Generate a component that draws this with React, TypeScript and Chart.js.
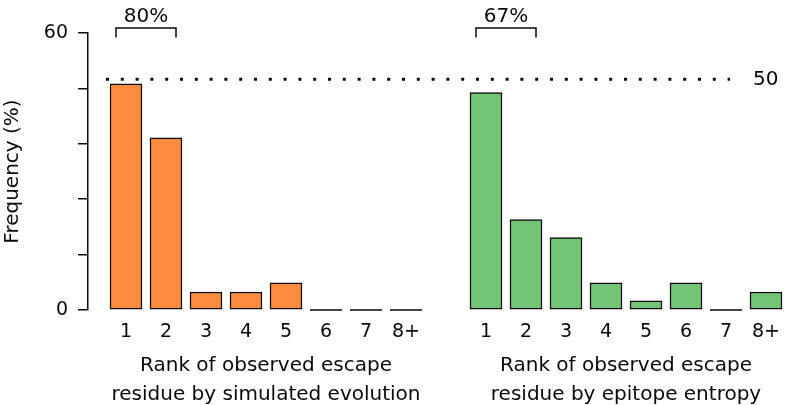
import React, { useEffect, useRef } from "react";
import { Chart, registerables } from "chart.js";

Chart.register(...registerables);

// ---- data ----
const rankLabels = ["1", "2", "3", "4", "5", "6", "7", "8+"];
const simulatedEvolution = [49.0, 37.3, 3.9, 3.9, 5.9, 0, 0, 0];
const epitopeEntropy = [47.1, 19.6, 15.7, 5.9, 2.0, 5.9, 0, 3.9];
const leftPositions = [0, 1, 2, 3, 4, 5, 6, 7];
const rightPositions = [9, 10, 11, 12, 13, 14, 15, 16];
const yLabeledTicks = [0, 60];
const referenceValue = 50;
const referenceSpan = [-0.5, 15.1];
const topTwoLabels = ["80%", "67%"];
const xTitles = [
  ["Rank of observed escape", "residue by simulated evolution"],
  ["Rank of observed escape", "residue by epitope entropy"],
];
const yTitle = "Frequency (%)";

const FONT = "'DejaVu Sans', 'Liberation Sans', Arial, sans-serif";
const INK = "#0a0a0a";
const ORANGE = "#FD8D3C";
const GREEN = "#74C476";

const annotations = {
  id: "annotations",
  afterDatasetsDraw(chart: any) {
    const { ctx, chartArea, scales } = chart;
    const x = scales.x;
    const y = scales.y;
    ctx.save();
    // zero-height bars as baseline strokes
    chart.data.datasets.forEach((ds: any, di: number) => {
      if (ds.type === "line") return;
      const meta = chart.getDatasetMeta(di);
      meta.data.forEach((el: any, i: number) => {
        const v = ds.data[i].y;
        if (v === 0) {
          ctx.strokeStyle = INK;
          ctx.lineWidth = 1.5;
          ctx.beginPath();
          ctx.moveTo(el.x - el.width / 2, el.base);
          ctx.lineTo(el.x + el.width / 2, el.base);
          ctx.stroke();
        }
      });
    });
    // brackets over top-two ranks
    const groups = [leftPositions, rightPositions];
    ctx.font = `20px ${FONT}`;
    ctx.fillStyle = INK;
    ctx.textAlign = "center";
    ctx.textBaseline = "middle";
    groups.forEach((pos, g) => {
      const x1 = x.getPixelForValue(pos[0]) - 10;
      const x2 = x.getPixelForValue(pos[1]) + 10;
      const yTop = chartArea.top - 5;
      const yBot = chartArea.top + 4.5;
      ctx.strokeStyle = INK;
      ctx.lineWidth = 1.5;
      ctx.beginPath();
      ctx.moveTo(x1, yBot);
      ctx.lineTo(x1, yTop);
      ctx.lineTo(x2, yTop);
      ctx.lineTo(x2, yBot);
      ctx.stroke();
      ctx.fillText(topTwoLabels[g], (x1 + x2) / 2, yTop - 11);
    });
    // reference label
    ctx.textAlign = "left";
    ctx.fillText(String(referenceValue), x.getPixelForValue(referenceSpan[1]) + 23, y.getPixelForValue(referenceValue) + 1);
    // x titles
    ctx.textAlign = "center";
    groups.forEach((pos, g) => {
      const cx = (x.getPixelForValue(pos[0]) + x.getPixelForValue(pos[pos.length - 1])) / 2;
      ctx.fillText(xTitles[g][0], cx, chartArea.bottom + 56);
      ctx.fillText(xTitles[g][1], cx, chartArea.bottom + 85);
    });
    ctx.restore();
  },
};

export default function App() {
  const ref = useRef<HTMLCanvasElement | null>(null);
  useEffect(() => {
    document.body.style.margin = "0";
    const tickPositions = [...leftPositions, ...rightPositions];
    const tickLabels = [...rankLabels, ...rankLabels];
    const chart = new Chart(ref.current as HTMLCanvasElement, {
      type: "bar",
      data: {
        datasets: [
          {
            type: "line",
            data: referenceSpan.map((v) => ({ x: v, y: referenceValue })),
            borderColor: INK,
            borderWidth: 3,
            borderDash: [3, 11.8],
            borderCapStyle: "butt",
            pointRadius: 0,
            fill: false,
          } as any,
          {
            type: "bar",
            data: leftPositions.map((p, i) => ({ x: p, y: simulatedEvolution[i] })),
            backgroundColor: ORANGE,
            borderColor: INK,
            borderWidth: 1.5,
            borderSkipped: false,
            barThickness: 32,
            grouped: false,
          } as any,
          {
            type: "bar",
            data: rightPositions.map((p, i) => ({ x: p, y: epitopeEntropy[i] })),
            backgroundColor: GREEN,
            borderColor: INK,
            borderWidth: 1.5,
            borderSkipped: false,
            barThickness: 32,
            grouped: false,
          } as any,
        ],
      },
      options: {
        responsive: false,
        animation: false,
        layout: { padding: { top: 33, left: 0, right: 0, bottom: 0 } },
        plugins: { legend: { display: false }, tooltip: { enabled: false } },
        scales: {
          x: {
            type: "linear",
            offset: false,
            min: -0.95,
            max: 16.5,
            grid: { display: false, drawTicks: false, offset: false },
            border: { display: false },
            afterBuildTicks: (scale: any) => {
              scale.ticks = tickPositions.map((v) => ({ value: v }));
            },
            afterFit: (scale: any) => {
              scale.height = 95;
              scale.paddingLeft = 0;
              scale.paddingRight = 0;
            },
            ticks: {
              autoSkip: false,
              maxRotation: 0,
              padding: 11,
              color: INK,
              font: { family: FONT, size: 19 },
              callback: (_v: any, i: number) => tickLabels[i],
            },
          },
          y: {
            min: 0,
            max: 60,
            afterFit: (scale: any) => {
              scale.width = 88;
            },
            grid: {
              display: true,
              drawOnChartArea: false,
              drawTicks: true,
              tickLength: 10,
              color: INK,
              lineWidth: 1.5,
            },
            border: { display: true, color: INK, width: 1.5 },
            ticks: {
              stepSize: 12,
              padding: 10,
              color: INK,
              font: { family: FONT, size: 19 },
              callback: (v: any) => (yLabeledTicks.includes(v) ? String(v) : ""),
            },
            title: {
              display: true,
              text: yTitle,
              color: INK,
              font: { family: FONT, size: 20 },
              padding: { top: 1, bottom: 0 },
            },
          },
        },
      },
      plugins: [annotations],
    } as any);
    return () => chart.destroy();
  }, []);
  return (
    <div style={{ width: 786, height: 405, background: "#fff" }}>
      <canvas ref={ref} width={786} height={405} />
    </div>
  );
}
